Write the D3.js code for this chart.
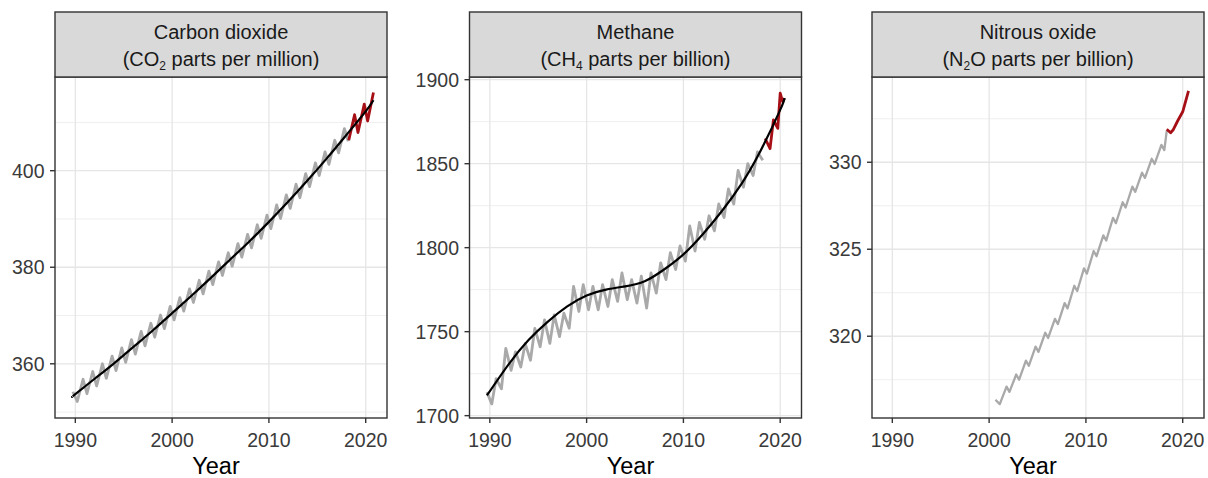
<!DOCTYPE html>
<html>
<head>
<meta charset="utf-8">
<script src="https://cdn.jsdelivr.net/npm/d3@7"></script>
<style>
  body { margin: 0; background: #fff; }
  text { font-family: "Liberation Sans", Arial, sans-serif; }
</style>
</head>
<body>
<svg id="chart" width="1208" height="478"></svg>
<script>
// ---- data ----
const yearTicks = [1990, 2000, 2010, 2020];

// carbon dioxide, seasonal low (early in year) and high (late in year)
const co2Years = [1990, 1991, 1992, 1993, 1994, 1995, 1996, 1997, 1998, 1999, 2000, 2001, 2002, 2003, 2004,
  2005, 2006, 2007, 2008, 2009, 2010, 2011, 2012, 2013, 2014, 2015, 2016, 2017, 2018];
const co2Low = [352.2, 353.8, 355.4, 357.0, 358.6, 360.3, 362.0, 363.7, 365.5, 367.3, 369.1, 370.9, 372.7, 374.5, 376.4,
  378.3, 380.2, 382.1, 384.0, 386.0, 388.0, 390.1, 392.2, 394.4, 396.7, 399.0, 401.3, 403.7, 406.1];
const co2High = [356.8, 358.4, 360.0, 361.6, 363.3, 365.0, 366.7, 368.4, 370.1, 371.9, 373.7, 375.5, 377.3, 379.2, 381.1,
  383.0, 384.9, 386.8, 388.8, 390.8, 392.9, 395.0, 397.2, 399.4, 401.6, 403.9, 406.3, 408.7];
const co2First = [1989.75, 354.2];
const co2TrendYears = [1989.7, 1990, 1992, 1994, 1996, 1998, 2000, 2002, 2004, 2006, 2008, 2010, 2012, 2014, 2016, 2018, 2020, 2020.8];
const co2Trend = [353.2, 353.7, 356.9, 360.1, 363.5, 366.9, 370.5, 374.1, 377.8, 381.6, 385.4, 389.4, 393.6, 398.0, 402.6, 407.4, 412.3, 414.6];
const co2RecentYears = [2018.25, 2018.85, 2019.2, 2019.85, 2020.2, 2020.8];
const co2Recent = [406.3, 411.6, 407.9, 413.8, 410.3, 416.2];

// methane
const ch4Years = co2Years;
const ch4Low = [1707, 1716, 1727, 1729, 1733, 1741, 1743, 1747, 1752, 1762, 1763, 1763, 1765, 1768, 1769,
  1767, 1764, 1773, 1781, 1787, 1792, 1798, 1805, 1810, 1818, 1826, 1836, 1843, 1852];
const ch4High = [1722, 1740, 1738, 1743, 1752, 1757, 1760, 1761, 1777, 1778, 1777, 1778, 1781, 1785, 1781,
  1783, 1785, 1791, 1797, 1801, 1813, 1815, 1819, 1826, 1835, 1846, 1850, 1857];
const ch4First = [1989.7, 1714];
const ch4TrendYears = [1989.7, 1992, 1994, 1996, 1998, 2000, 2002, 2004, 2006, 2008, 2010, 2012, 2014, 2016, 2018, 2020, 2020.45];
const ch4Trend = [1712, 1731, 1745, 1756, 1765, 1771.5, 1775, 1777, 1780, 1787, 1796, 1808, 1822, 1838, 1858, 1882, 1889];
const ch4RecentYears = [2018.45, 2018.95, 2019.3, 2019.75, 2020.0, 2020.25, 2020.45];
const ch4Recent = [1865, 1859, 1876, 1871, 1892, 1887, 1889];

// nitrous oxide
const n2oYears = [2001, 2002, 2003, 2004, 2005, 2006, 2007, 2008, 2009, 2010, 2011, 2012, 2013, 2014, 2015, 2016, 2017, 2018];
const n2oLow = [316.1, 316.8, 317.5, 318.3, 319.1, 319.9, 320.7, 321.6, 322.6, 323.6, 324.6, 325.5, 326.5, 327.4, 328.3, 329.1, 329.9, 330.7];
const n2oHigh = [317.1, 317.8, 318.6, 319.4, 320.2, 321.0, 321.9, 322.9, 323.9, 324.9, 325.8, 326.8, 327.7, 328.6, 329.4, 330.2, 331.0];
const n2oFirst = [2000.65, 316.35];
const n2oLast = [2018.35, 331.8];
const n2oRecentYears = [2018.35, 2018.75, 2019.0, 2019.5, 2020.0, 2020.3, 2020.6];
const n2oRecent = [331.9, 331.7, 331.85, 332.4, 332.9, 333.5, 334.1];

// ---- build series ----
// low point sits early in the year, high point later in the year
const buildSeasonal = (first, years, low, high, lowAt, highAt, last) => {
  const pts = [first];
  years.forEach((yr, i) => {
    pts.push([yr + lowAt, low[i]]);
    if (high[i] !== undefined) pts.push([yr + highAt, high[i]]);
  });
  if (last) pts.push(last);
  return pts;
};
const zip = (xs, ys) => xs.map((x, i) => [x, ys[i]]);

const panels = [
  {
    title: "Carbon dioxide", pre: "(CO", sub: "2", post: " parts per million)",
    domain: [348.77, 419.41], ticks: [360, 380, 400], minor: [350, 370, 390, 410],
    gray: buildSeasonal(co2First, co2Years, co2Low, co2High, 0.2, 0.8),
    trend: zip(co2TrendYears, co2Trend),
    recent: zip(co2RecentYears, co2Recent),
    left: 55
  },
  {
    title: "Methane", pre: "(CH", sub: "4", post: " parts per billion)",
    domain: [1698.6, 1901.6], ticks: [1700, 1750, 1800, 1850, 1900], minor: [1725, 1775, 1825, 1875],
    gray: buildSeasonal(ch4First, ch4Years, ch4Low, ch4High, 0.2, 0.65),
    trend: zip(ch4TrendYears, ch4Trend),
    recent: zip(ch4RecentYears, ch4Recent),
    left: 469.5
  },
  {
    title: "Nitrous oxide", pre: "(N", sub: "2", post: "O parts per billion)",
    domain: [315.3, 334.9], ticks: [320, 325, 330], minor: [317.5, 322.5, 327.5, 332.5],
    gray: buildSeasonal(n2oFirst, n2oYears, n2oLow, n2oHigh, 0.1, 0.8, n2oLast),
    trend: null,
    recent: zip(n2oRecentYears, n2oRecent),
    left: 872
  }
];

// ---- layout ----
const panelW = 332;
const stripTop = 12, plotTop = 77, plotBottom = 418;

const svg = d3.select("#chart");

panels.forEach((p) => {
  const g = svg.append("g").attr("transform", `translate(${p.left},0)`);
  const x = d3.scaleLinear().domain([1987.9, 2022.2]).range([0, panelW]);
  const y = d3.scaleLinear().domain(p.domain).range([plotBottom, plotTop]);

  // grid
  g.selectAll(".minor").data(p.minor).join("line")
    .attr("x1", 0).attr("x2", panelW)
    .attr("y1", (d) => y(d)).attr("y2", (d) => y(d))
    .attr("stroke", "#efefef").attr("stroke-width", 1);
  g.selectAll(".hmajor").data(p.ticks).join("line")
    .attr("x1", 0).attr("x2", panelW)
    .attr("y1", (d) => y(d)).attr("y2", (d) => y(d))
    .attr("stroke", "#e6e6e6").attr("stroke-width", 1.3);
  g.selectAll(".vmajor").data(yearTicks).join("line")
    .attr("x1", (d) => x(d)).attr("x2", (d) => x(d))
    .attr("y1", plotTop).attr("y2", plotBottom)
    .attr("stroke", "#e6e6e6").attr("stroke-width", 1.3);

  const line = d3.line().x((d) => x(d[0])).y((d) => y(d[1]));

  g.append("path").datum(p.gray)
    .attr("d", line)
    .attr("fill", "none").attr("stroke", "#a9a9a9")
    .attr("stroke-width", p.trend ? 2.8 : 2.3)
    .attr("stroke-linejoin", "round");

  g.append("path").datum(p.recent)
    .attr("d", line)
    .attr("fill", "none").attr("stroke", "#a50f15")
    .attr("stroke-width", 2.8).attr("stroke-linejoin", "round");

  if (p.trend) {
    g.append("path").datum(p.trend)
      .attr("d", d3.line().x((d) => x(d[0])).y((d) => y(d[1])).curve(d3.curveNatural))
      .attr("fill", "none").attr("stroke", "#000")
      .attr("stroke-width", 2.2);
  }

  // panel border
  g.append("rect")
    .attr("x", 0).attr("y", plotTop)
    .attr("width", panelW).attr("height", plotBottom - plotTop)
    .attr("fill", "none").attr("stroke", "#333").attr("stroke-width", 1.4);

  // strip
  g.append("rect")
    .attr("x", 0).attr("y", stripTop)
    .attr("width", panelW).attr("height", plotTop - stripTop)
    .attr("fill", "#d9d9d9").attr("stroke", "#333").attr("stroke-width", 1.4);
  g.append("text")
    .attr("x", panelW / 2).attr("y", 39)
    .attr("text-anchor", "middle")
    .attr("font-size", 20).attr("fill", "#1a1a1a")
    .text(p.title);
  const unit = g.append("text")
    .attr("x", panelW / 2).attr("y", 66)
    .attr("text-anchor", "middle")
    .attr("font-size", 20).attr("fill", "#1a1a1a");
  unit.append("tspan").text(p.pre);
  unit.append("tspan").attr("dy", 4).attr("font-size", 12).text(p.sub);
  unit.append("tspan").attr("dy", -4).text(p.post);

  // y axis
  g.selectAll(".ytick").data(p.ticks).join("line")
    .attr("x1", -5).attr("x2", 0)
    .attr("y1", (d) => y(d)).attr("y2", (d) => y(d))
    .attr("stroke", "#333").attr("stroke-width", 1.4);
  g.selectAll(".ylab").data(p.ticks).join("text")
    .attr("x", -10.5).attr("y", (d) => y(d))
    .attr("dy", "0.36em")
    .attr("text-anchor", "end")
    .attr("font-size", 19.5).attr("fill", "#3a3a3a")
    .text((d) => d);

  // x axis
  g.selectAll(".xtick").data(yearTicks).join("line")
    .attr("x1", (d) => x(d)).attr("x2", (d) => x(d))
    .attr("y1", plotBottom).attr("y2", plotBottom + 5)
    .attr("stroke", "#333").attr("stroke-width", 1.4);
  g.selectAll(".xlab").data(yearTicks).join("text")
    .attr("x", (d) => x(d)).attr("y", 446.5)
    .attr("text-anchor", "middle")
    .attr("font-size", 19.5).attr("fill", "#3a3a3a")
    .text((d) => d);

  g.append("text")
    .attr("x", panelW / 2 - 5).attr("y", 474)
    .attr("text-anchor", "middle")
    .attr("font-size", 23.5).attr("fill", "#000")
    .text("Year");
});
</script>
</body>
</html>
